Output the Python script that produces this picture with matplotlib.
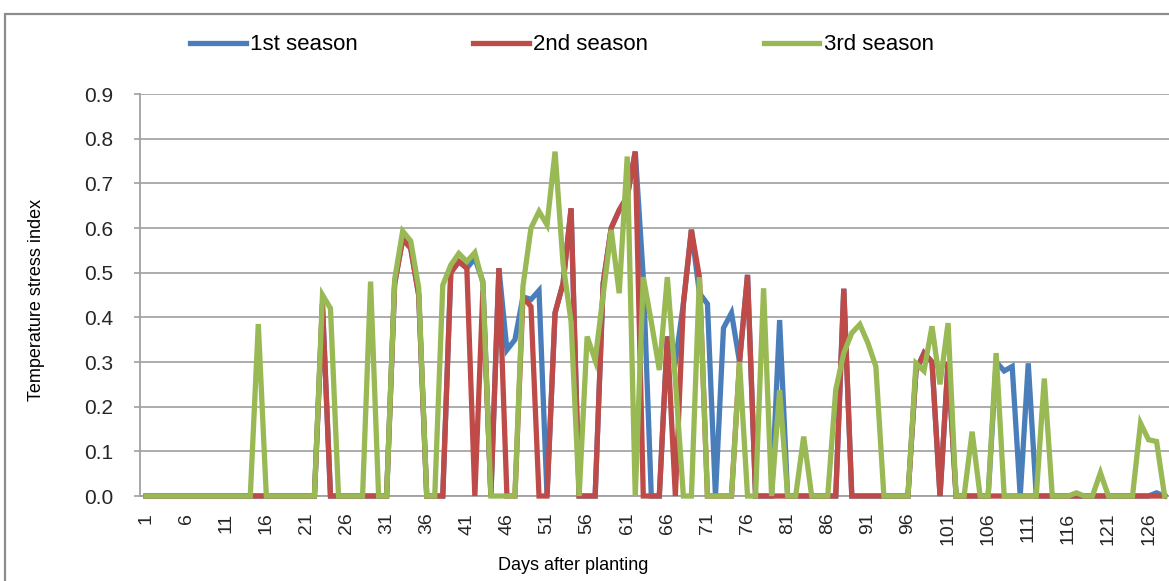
import matplotlib
matplotlib.use("Agg")
import matplotlib.pyplot as plt
from matplotlib.patches import Rectangle

# Days after planting (1..128)
days = list(range(1, 129))
tick_days = list(range(1, 127, 5))

# Temperature stress index
season1 = [
    0, 0, 0, 0, 0, 0, 0, 0, 0, 0,
    0, 0, 0, 0, 0, 0, 0, 0, 0, 0,
    0, 0, 0.43, 0, 0, 0, 0, 0, 0, 0,
    0, 0.475, 0.575, 0.555, 0.45, 0, 0, 0, 0.50, 0.525,
    0.51, 0.532, 0.48, 0, 0.51, 0.327, 0.35, 0.446, 0.44, 0.46,
    0, 0.41, 0.476, 0.644, 0, 0, 0, 0.476, 0.60, 0.64,
    0.67, 0.771, 0.49, 0, 0, 0.357, 0.30, 0.43, 0.596, 0.454,
    0.43, 0, 0.376, 0.41, 0.30, 0.495, 0, 0, 0, 0.394,
    0, 0, 0, 0, 0, 0, 0, 0.464, 0, 0,
    0, 0, 0, 0, 0, 0, 0.28, 0.32, 0.30, 0,
    0.30, 0, 0, 0, 0, 0, 0.30, 0.28, 0.29, 0,
    0.297, 0, 0, 0, 0, 0, 0, 0, 0, 0,
    0, 0, 0, 0, 0, 0, 0.007, 0,
]
season2 = [
    0, 0, 0, 0, 0, 0, 0, 0, 0, 0,
    0, 0, 0, 0, 0, 0, 0, 0, 0, 0,
    0, 0, 0.43, 0, 0, 0, 0, 0, 0, 0,
    0, 0.475, 0.575, 0.555, 0.45, 0, 0, 0, 0.50, 0.525,
    0.51, 0, 0.46, 0, 0.51, 0, 0, 0.446, 0.424, 0,
    0, 0.41, 0.476, 0.644, 0, 0, 0, 0.476, 0.60, 0.64,
    0.67, 0.771, 0, 0, 0, 0.357, 0, 0.43, 0.596, 0.49,
    0, 0, 0, 0, 0.30, 0.495, 0, 0, 0, 0,
    0, 0, 0, 0, 0, 0, 0, 0.464, 0, 0,
    0, 0, 0, 0, 0, 0, 0.28, 0.32, 0.30, 0,
    0.30, 0, 0, 0, 0, 0, 0, 0, 0, 0,
    0, 0, 0, 0, 0, 0, 0, 0, 0, 0,
    0, 0, 0, 0, 0, 0, 0, 0,
]
season3 = [
    0, 0, 0, 0, 0, 0, 0, 0, 0, 0,
    0, 0, 0, 0, 0.385, 0, 0, 0, 0, 0,
    0, 0, 0.45, 0.42, 0, 0, 0, 0, 0.48, 0,
    0, 0.485, 0.593, 0.571, 0.466, 0, 0, 0.472, 0.517, 0.543,
    0.525, 0.545, 0.476, 0, 0, 0, 0, 0.47, 0.60, 0.637,
    0.607, 0.771, 0.52, 0.39, 0, 0.357, 0.304, 0.45, 0.596, 0.454,
    0.76, 0, 0.49, 0.39, 0.282, 0.49, 0.26, 0, 0, 0.49,
    0, 0, 0, 0, 0.30, 0, 0, 0.465, 0, 0.237,
    0, 0, 0.133, 0, 0, 0, 0.238, 0.32, 0.365, 0.384,
    0.343, 0.29, 0, 0, 0, 0, 0.297, 0.28, 0.38, 0.25,
    0.387, 0, 0, 0.144, 0, 0, 0.32, 0, 0, 0,
    0, 0, 0.263, 0, 0, 0, 0.007, 0, 0, 0.052,
    0, 0, 0, 0, 0.163, 0.126, 0.122, 0,
]

labels = ["1st season", "2nd season", "3rd season"]
colors = ["#4A7EBB", "#BE4B48", "#98B954"]

W, H = 1169, 581
plt.rcParams['font.family'] = ['Liberation Sans', 'DejaVu Sans']

fig = plt.figure(figsize=(W / 100, H / 100), dpi=100)
fig.patch.set_facecolor("white")

# outer chart frame (only top and left edges are inside the crop)
fig.add_artist(Rectangle((5 / W, -0.2), 1.5, (H - 14) / H + 0.2,
                         transform=fig.transFigure, fill=False,
                         edgecolor="#8c8c8c", linewidth=1.6))

ax = fig.add_axes([140 / W, (H - 496) / H, (W - 140) / W + 0.01, (496 - 94) / H])

handles = []
for vals, lab, col in zip([season1, season2, season3], labels, colors):
    ln, = ax.plot(days, vals, color=col, linewidth=3.8, label=lab,
                  solid_joinstyle="miter", clip_on=False, zorder=3)
    handles.append(ln)

ax.set_xlim(0.25, 128.55 + 0.01 * W / 1029 * 128.3)
ax.set_ylim(0, 0.9)

# axes styling, Excel look
ax.set_yticks([i / 10 for i in range(10)])
ax.set_yticklabels([f"{i / 10:.1f}" for i in range(10)], fontsize=15,
                   color="#262626")
ax.set_xticks(tick_days)
ax.set_xticklabels([str(d) for d in tick_days], rotation=90, fontsize=14,
                   color="#262626")
ax.tick_params(axis="y", length=4, color="#a0a0a0", pad=15, width=1.2)
ax.tick_params(axis="x", length=0, pad=12)
ax.grid(axis="y", color="#a6a6a6", linewidth=1.3)
ax.set_axisbelow(True)
for side in ["top", "right"]:
    ax.spines[side].set_visible(False)
for side in ["left", "bottom"]:
    ax.spines[side].set_color("#a0a0a0")
    ax.spines[side].set_linewidth(1.3)

fig.text(573 / W, 1 - 565 / H, "Days after planting", fontsize=13,
         ha="center", va="center")
fig.text(37 / W, 1 - 300 / H, "Temperature stress index", fontsize=13,
         rotation=90, ha="center", va="center")

fig.legend(handles=handles, labels=labels, loc="center left",
           bbox_to_anchor=(190 / W, 1 - 45 / H), ncol=3, frameon=False,
           fontsize=16, handlelength=2.5, handletextpad=0.2,
           columnspacing=5.2, borderpad=0, borderaxespad=0)

fig.savefig("out.png", dpi=100)
